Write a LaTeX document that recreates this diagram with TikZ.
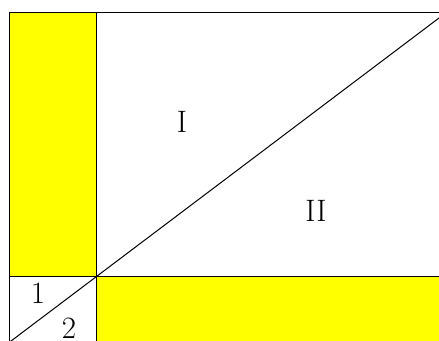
\documentclass[tikz,border=0pt]{standalone}
\usetikzlibrary{calc}
\definecolor{pureyellow}{RGB}{255,255,0}
\begin{document}
\begin{tikzpicture}[x=1pt,y=-1pt,
  edge/.style={draw=black,line width=1pt},
  lbl/.style={font=\fontsize{31}{37}\selectfont,inner sep=0pt}]
\useasboundingbox (0,0) rectangle (439,340);
\clip (0,0) rectangle (439,340);
\fill[white] (0,0) rectangle (439,340);
\coordinate (C) at (96.5,276.5);
\coordinate (TL) at (9.3,12);
\fill[pureyellow] (TL) rectangle (C);
\fill[pureyellow] (C) rectangle (450,350);
\draw[edge] (9.3,350) -- (TL) -- (450,12);
\draw[edge] (96.5,12) -- (96.5,350);
\draw[edge] (9.3,276.5) -- (450,276.5);
\draw[edge] ($(C)!-1.2!(439,18)$) -- ($(C)!1.1!(439,18)$);
\node[lbl] (one) at (38,293) {1};
\node[lbl] (two) at (69,328) {2};
\node[lbl] (I) at (182,122) {I};
\node[lbl] (II) at (316,211) {II};
\end{tikzpicture}
\end{document}
